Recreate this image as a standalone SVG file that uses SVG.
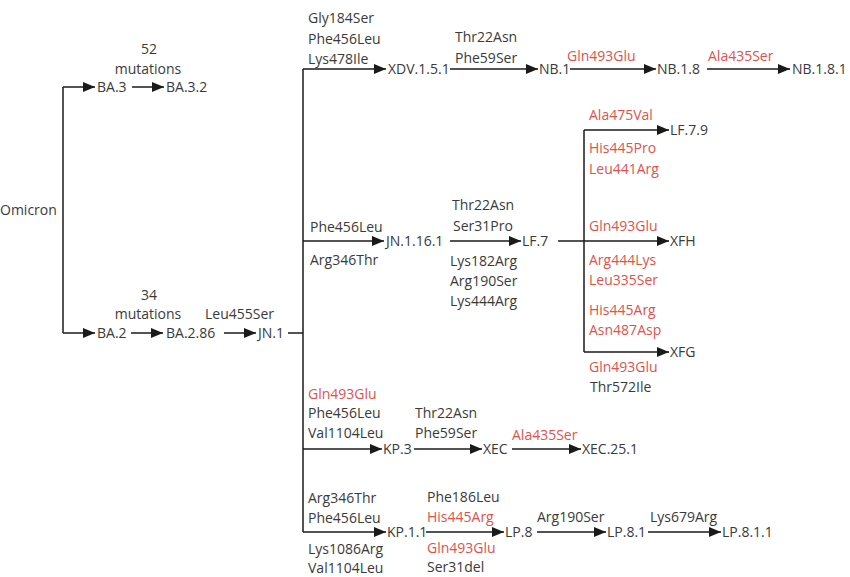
<svg xmlns="http://www.w3.org/2000/svg" width="850" height="577" viewBox="0 0 850 577">
<defs>
<marker id="ah" markerUnits="userSpaceOnUse" markerWidth="12" markerHeight="10" refX="12" refY="5" orient="auto">
<path d="M0,0 L12,5 L0,10 Z" fill="#1a1a1a"/>
</marker>
</defs>
<style>
text{font-family:"Open Sans","Noto Sans","Liberation Sans",sans-serif;font-size:14px;fill:#3a3a3a}
.r{fill:#e0524c}
.m{text-anchor:middle}
.l{fill:none;stroke:#1a1a1a;stroke-width:1.5}
.a{fill:none;stroke:#1a1a1a;stroke-width:1.5;marker-end:url(#ah)}
</style>
<rect width="850" height="577" fill="#fff"/>
<g id="connectors">
<path class="l" d="M63,87 V333"/>
<path class="a" d="M63,87 H95"/>
<path class="a" d="M63,333 H95"/>
<path class="a" d="M132,87 H164"/>
<path class="a" d="M131,333 H163"/>
<path class="a" d="M224,333 H256"/>
<path class="l" d="M288,333 H303"/>
<path class="l" d="M303,69 V532"/>
<path class="a" d="M303,69 H386"/>
<path class="a" d="M303,241 H384"/>
<path class="a" d="M303,449 H382"/>
<path class="a" d="M303,532 H386"/>
<path class="a" d="M450,69 H538"/>
<path class="a" d="M570,69 H656"/>
<path class="a" d="M707,69 H790"/>
<path class="a" d="M450,241 H521"/>
<path class="l" d="M558,241 H584"/>
<path class="l" d="M584,130 V352"/>
<path class="a" d="M584,130 H669"/>
<path class="a" d="M584,241 H669"/>
<path class="a" d="M584,352 H669"/>
<path class="a" d="M414,449 H482"/>
<path class="a" d="M512,449 H581"/>
<path class="a" d="M426,532 H504"/>
<path class="a" d="M537,532 H606"/>
<path class="a" d="M648,532 H721"/>
<g id="labels">
<text class="m" x="149" y="54">52</text>
<text class="m" x="148" y="74">mutations</text>
<text class="m" x="149" y="300">34</text>
<text class="m" x="148" y="319">mutations</text>
<text x="205" y="319">Leu455Ser</text>
<text x="308" y="23">Gly184Ser</text>
<text x="308" y="44">Phe456Leu</text>
<text x="308" y="64">Lys478Ile</text>
<text x="455" y="42">Thr22Asn</text>
<text x="455" y="63">Phe59Ser</text>
<text class="r" x="567" y="61">Gln493Glu</text>
<text class="r" x="708" y="61">Ala435Ser</text>
<text x="310" y="232">Phe456Leu</text>
<text x="310" y="265">Arg346Thr</text>
<text x="452" y="210">Thr22Asn</text>
<text x="453" y="231">Ser31Pro</text>
<text x="450" y="266">Lys182Arg</text>
<text x="450" y="286">Arg190Ser</text>
<text x="450" y="306">Lys444Arg</text>
<text class="r" x="589" y="120">Ala475Val</text>
<text class="r" x="589" y="153">His445Pro</text>
<text class="r" x="589" y="174">Leu441Arg</text>
<text class="r" x="589" y="231">Gln493Glu</text>
<text class="r" x="589" y="265">Arg444Lys</text>
<text class="r" x="589" y="285">Leu335Ser</text>
<text class="r" x="589" y="315">His445Arg</text>
<text class="r" x="589" y="335">Asn487Asp</text>
<text class="r" x="589" y="372">Gln493Glu</text>
<text x="590" y="392">Thr572Ile</text>
<text class="r" x="308" y="399">Gln493Glu</text>
<text x="308" y="418">Phe456Leu</text>
<text x="308" y="438">Val1104Leu</text>
<text x="415" y="418">Thr22Asn</text>
<text x="415" y="438">Phe59Ser</text>
<text class="r" x="512" y="440">Ala435Ser</text>
<text x="308" y="503">Arg346Thr</text>
<text x="308" y="523">Phe456Leu</text>
<text x="308" y="554">Lys1086Arg</text>
<text x="308" y="573">Val1104Leu</text>
<text x="427" y="502">Phe186Leu</text>
<text class="r" x="427" y="522">His445Arg</text>
<text class="r" x="427" y="553">Gln493Glu</text>
<text x="427" y="572">Ser31del</text>
<text x="537" y="522">Arg190Ser</text>
<text x="650" y="522">Lys679Arg</text>
</g>
</g>
<g id="n-omicron"><text x="0" y="215">Omicron</text></g>
<g id="n-ba3"><text x="97" y="92">BA.3</text></g>
<g id="n-ba32"><text x="166" y="92">BA.3.2</text></g>
<g id="n-ba2"><text x="97" y="338">BA.2</text></g>
<g id="n-ba286"><text x="166" y="338">BA.2.86</text></g>
<g id="n-jn1"><text x="258" y="338">JN.1</text></g>
<g id="n-xdv"><text x="388" y="74">XDV.1.5.1</text></g>
<g id="n-nb1"><text x="539" y="74">NB.1</text></g>
<g id="n-nb18"><text x="657" y="74">NB.1.8</text></g>
<g id="n-nb181"><text x="792" y="74">NB.1.8.1</text></g>
<g id="n-jn1161"><text x="386" y="246">JN.1.16.1</text></g>
<g id="n-lf7"><text x="522" y="246">LF.7</text></g>
<g id="n-lf79"><text x="670" y="135">LF.7.9</text></g>
<g id="n-xfh"><text x="670" y="246">XFH</text></g>
<g id="n-xfg"><text x="670" y="357">XFG</text></g>
<g id="n-kp3"><text x="383" y="454">KP.3</text></g>
<g id="n-xec"><text x="483" y="454">XEC</text></g>
<g id="n-xec251"><text x="582" y="454">XEC.25.1</text></g>
<g id="n-kp11"><text x="387" y="537">KP.1.1</text></g>
<g id="n-lp8"><text x="505" y="537">LP.8</text></g>
<g id="n-lp81"><text x="607" y="537">LP.8.1</text></g>
<g id="n-lp811"><text x="722" y="537">LP.8.1.1</text></g>
</svg>
